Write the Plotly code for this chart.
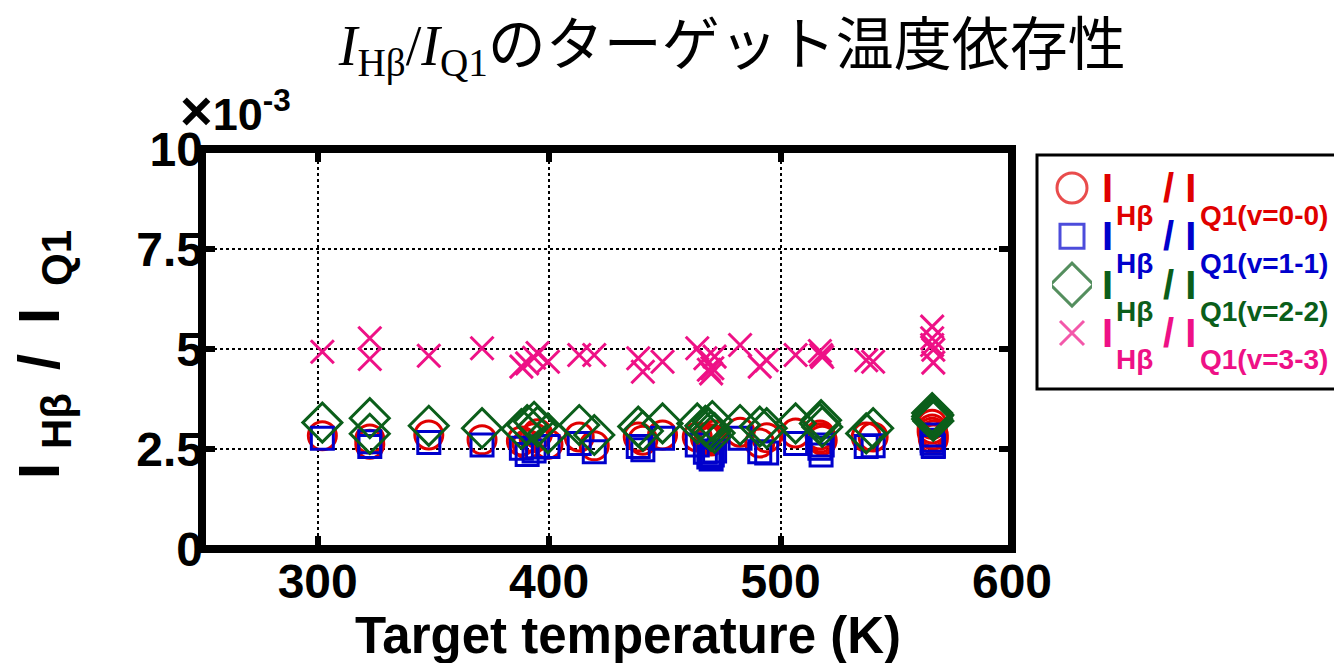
import plotly.graph_objects as go

# Target temperature (K) of each measurement
temperature = [
    302, 322.5, 322.5, 348, 371, 388, 390.5, 393.5, 395, 399.5,
    413, 419.5, 438.5, 440.5, 449, 464, 467.5, 469, 470, 470.5,
    471.5, 482.5, 491, 494, 506.5, 517, 517.5, 518, 537, 540,
    565.5, 565.5, 565.5, 566, 566,
]

# Intensity ratios I_Hβ / I_Q1 in units of 1e-3
ratio_v00 = [
    2.83, 2.75, 2.62, 2.85, 2.73, 2.70, 2.62, 2.78, 2.88, 2.62,
    2.80, 2.58, 2.80, 2.72, 2.85, 2.80, 2.78, 2.72, 2.70, 2.75,
    2.85, 2.92, 2.65, 2.78, 2.90, 2.85, 2.78, 2.72, 2.80, 2.80,
    3.12, 3.00, 2.92, 2.85, 2.75,
]
ratio_v11 = [
    2.77, 2.68, 2.56, 2.66, 2.60, 2.52, 2.36, 2.45, 2.55, 2.56,
    2.64, 2.43, 2.56, 2.48, 2.77, 2.60, 2.42, 2.30, 2.25, 2.35,
    2.45, 2.77, 2.43, 2.40, 2.64, 2.52, 2.35, 2.60, 2.56, 2.58,
    2.85, 2.72, 2.65, 2.58, 2.56,
]
ratio_v22 = [
    3.16, 3.27, 2.88, 3.08, 3.02, 3.00, 3.10, 3.18, 3.06, 2.89,
    3.10, 2.85, 3.06, 2.95, 3.14, 3.14, 3.08, 3.02, 2.95, 3.20,
    2.90, 3.10, 3.06, 3.02, 3.14, 3.14, 3.22, 3.05, 2.89, 3.02,
    3.40, 3.31, 3.25, 3.35, 3.20,
]
ratio_v33 = [
    4.93, 5.27, 4.75, 4.83, 5.02, 4.56, 4.64, 4.78, 4.90, 4.68,
    4.85, 4.85, 4.77, 4.43, 4.68, 5.02, 4.77, 4.48, 4.39, 4.52,
    4.81, 5.10, 4.56, 4.72, 4.85, 4.95, 4.85, 4.80, 4.72, 4.68,
    5.56, 5.27, 5.10, 4.98, 4.66,
]

x_ticks = [300, 400, 500, 600]
y_ticks = [0, 2.5, 5, 7.5, 10]
y_ticklabels = ["0", "2.5", "5", "7.5", "10"]

band_labels = ["0-0", "1-1", "2-2", "3-3"]
ratios = [ratio_v00, ratio_v11, ratio_v22, ratio_v33]
symbols = ["circle-open", "square-open", "diamond-open", "x-thin-open"]
plot_sizes = [28, 22, 30, 23]
key_sizes = [30, 24, 33, 24]
colors = ["#e00000", "#0000cc", "#0b5e1a", "#ee1186"]

FIG_W, FIG_H = 1334, 663
M_L, M_T, M_B = 202, 149, 114
PLOT_W = 1012 - M_L
PAPER_W = FIG_W - M_L


def px_x(p):
    """Horizontal pixel position -> paper coordinate."""
    return (p - M_L) / PAPER_W


def px_y(p):
    """Vertical pixel position -> paper coordinate."""
    return (FIG_H - M_B - p) / (FIG_H - M_T - M_B)


fig = go.Figure()
for band, vals, symbol, size, color in zip(band_labels, ratios, symbols, plot_sizes, colors):
    fig.add_trace(go.Scatter(
        x=temperature, y=vals, mode="markers", name=f"v={band}",
        showlegend=False,
        marker=dict(symbol=symbol, size=size, color=color,
                    line=dict(color=color, width=3)),
    ))

# Legend keys, one row per series
key_rows = list(range(len(band_labels)))
fig.add_trace(go.Scatter(
    x=[0.5] * len(key_rows), y=key_rows, mode="markers", xaxis="x2", yaxis="y2",
    showlegend=False, hoverinfo="skip",
    marker=dict(symbol=symbols, size=key_sizes, color=colors,
                line=dict(color=colors, width=3)),
))

title_text = (
    "<span style='font-family:Liberation Serif;font-style:italic'>I</span>"
    "<sub><span style='font-family:Liberation Serif'>Hβ</span></sub>"
    "<span style='font-family:Liberation Serif'>/</span>"
    "<span style='font-family:Liberation Serif;font-style:italic'>I</span>"
    "<sub><span style='font-family:Liberation Serif'>Q1</span></sub>"
    "<span style='font-family:Noto Sans CJK JP;font-size:58px'>のターゲット温度依存性</span>"
)

tick_font = dict(family="Liberation Sans", size=48, color="black", weight="bold")
axis_common = dict(
    showline=False, mirror="ticks", automargin=False,
    ticks="inside", ticklen=13, tickwidth=6, tickcolor="black",
    showgrid=True, gridcolor="black", griddash="dot", gridwidth=2,
    zeroline=False, tickfont=tick_font,
)

fig.update_layout(
    template="none",
    width=FIG_W, height=FIG_H,
    paper_bgcolor="white", plot_bgcolor="white",
    margin=dict(l=M_L, r=0, t=M_T, b=M_B, autoexpand=False),
    title=dict(text=title_text, x=0.549, xanchor="center", y=0.932, yanchor="middle",
               font=dict(family="Liberation Serif", size=56, color="black")),
    xaxis=dict(domain=[0, PLOT_W / PAPER_W], range=[250, 600], tickvals=x_ticks,
               ticklabelstandoff=0, **axis_common),
    yaxis=dict(range=[0, 10], tickvals=y_ticks, ticktext=y_ticklabels,
               ticklabelstandoff=-2, **axis_common),
    xaxis2=dict(domain=[px_x(1052), px_x(1092)], range=[0, 1], visible=False,
                anchor="y2", fixedrange=True, automargin=False),
    yaxis2=dict(domain=[0, 1], range=[7.47, -0.807], visible=False,
                anchor="x2", fixedrange=True, automargin=False),
    showlegend=False,
)

# Thick frame around the plotting area
fig.add_shape(type="rect", xref="x domain", yref="y domain", x0=0, x1=1, y0=0, y1=1,
              line=dict(color="black", width=8), layer="above")

# Legend box
fig.add_shape(type="rect", xref="paper", yref="paper",
              x0=px_x(1037), x1=px_x(1345), y0=px_y(389), y1=px_y(155),
              line=dict(color="black", width=3), fillcolor="rgba(0,0,0,0)")

# Legend labels: main letters on the key row, subscripts dropped below it
main_font = dict(family="Liberation Sans", size=40, weight="bold")
sub_font = dict(family="Liberation Sans", size=28, weight="bold")
for row, band, color in zip(key_rows, band_labels, colors):
    pieces = [
        ("I", 1100, 0, main_font),
        ("Hβ", 1114, 27, sub_font),
        ("/ I", 1161, 0, main_font),
        (f"Q1(v={band})", 1198, 27, sub_font),
    ]
    for text, left, drop, font in pieces:
        fig.add_annotation(
            text=text, xref="paper", yref="y2", x=px_x(left), y=row,
            xanchor="left", yanchor="middle", yshift=-drop, showarrow=False,
            font=dict(color=color, **font),
        )

# X axis title
fig.add_annotation(
    text="Target temperature (K)", xref="paper", yref="paper", x=px_x(628), y=px_y(635),
    xanchor="center", yanchor="middle", showarrow=False,
    font=dict(family="Liberation Sans", size=51, color="black", weight="bold"),
)

# Y axis title, set piece by piece so the subscripts sit beside the stems
ytitle_main = dict(family="Liberation Sans", size=58, color="black", weight="bold")
ytitle_sub = dict(family="Liberation Sans", size=42, color="black", weight="bold")
ytitle_pieces = [
    ("I", 38, 471, ytitle_main),
    ("Hβ", 56, 421, ytitle_sub),
    ("/", 38, 362, ytitle_main),
    ("I", 38, 316, ytitle_main),
    ("Q1", 56, 258, ytitle_sub),
]
for text, cx, cy, font in ytitle_pieces:
    fig.add_annotation(
        text=text, xref="paper", yref="paper", x=px_x(cx), y=px_y(cy), textangle=-90,
        xanchor="center", yanchor="middle", showarrow=False, font=font,
    )

# Scale factor of the y axis
fig.add_annotation(
    text="<span style='font-size:56px'>×</span>10<sup>-3</sup>",
    xref="paper", yref="paper", x=px_x(178), y=px_y(110),
    xanchor="left", yanchor="middle", showarrow=False,
    font=dict(family="Liberation Sans", size=45, color="black", weight="bold"),
)

fig.write_html("out.html")
